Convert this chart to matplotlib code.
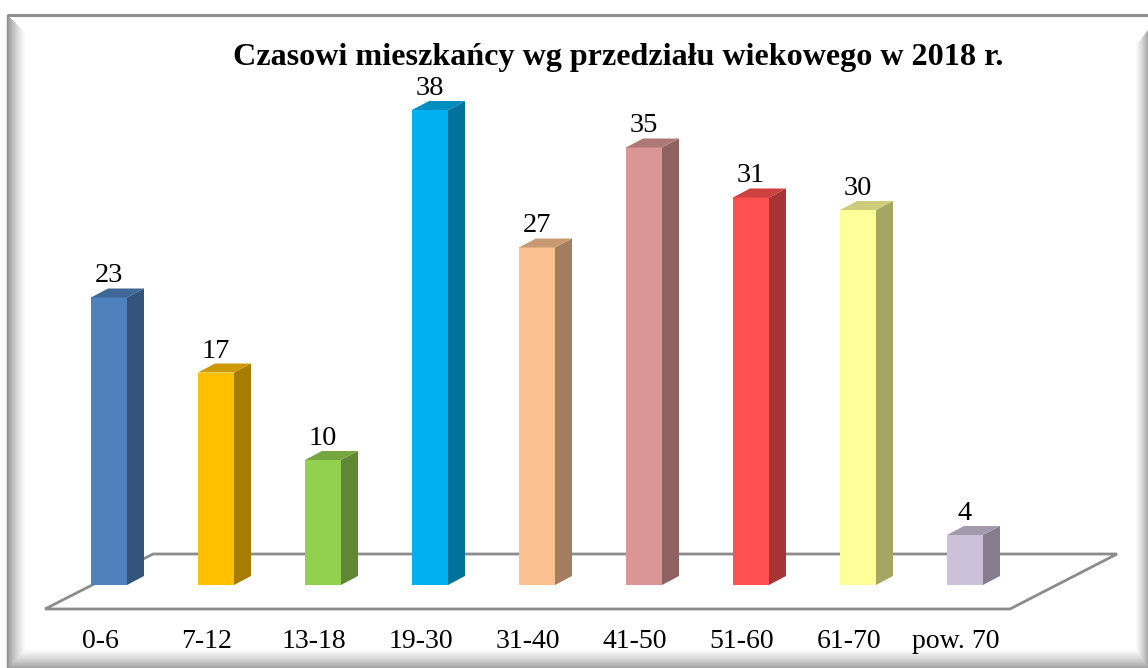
import matplotlib
matplotlib.use('Agg')
import matplotlib.pyplot as plt
from matplotlib.patches import Polygon
import matplotlib.colors as mcolors

# data
categories = ['0-6', '7-12', '13-18', '19-30', '31-40', '41-50', '51-60', '61-70', 'pow. 70']
values = [23, 17, 10, 38, 27, 35, 31, 30, 4]
bar_colors = ['#4F81BD', '#FFC000', '#92D050', '#00B0F0', '#FAC090',
              '#D99694', '#FF5050', '#FFFF99', '#CCC0DA']
title = 'Czasowi mieszkańcy wg przedziału wiekowego w 2018 r.'

W, H = 1148, 668
fig = plt.figure(figsize=(W / 100, H / 100), dpi=100)
fig.patch.set_facecolor('white')
serif = 'Liberation Serif'

# ── decoration layer in pixel coords ──
deco = fig.add_axes([0, 0, 1, 1], zorder=0)
deco.set_xlim(0, W)
deco.set_ylim(H, 0)
deco.axis('off')

L = lambda t: 7 + 18 * t
R = lambda t: 1150 - 14 * t
T = lambda t: 15 + 18 * t
B = lambda t: 670 - 20 * t
N = 30
for i in range(N):
    t0, t1 = i / N, (i + 1) / N
    g = 0.52 + 0.48 * (t0 ** 0.7)
    c = (g, g, g)
    for pts in [
        [(L(t0), T(t0)), (L(t1), T(t1)), (L(t1), B(t1)), (L(t0), B(t0))],
        [(R(t0), T(t0) + 13), (R(t1), T(t1) + 13), (R(t1), B(t1)), (R(t0), B(t0))],
        [(L(t0), B(t0)), (R(t0), B(t0)), (R(t1), B(t1)), (L(t1), B(t1))],
    ]:
        deco.add_patch(Polygon(pts, closed=True, facecolor=c, edgecolor=c, lw=0.3))
deco.plot([7, W], [15, 15], color='#8f8f8f', lw=2.2, solid_capstyle='butt')

# floor
floor = [(45, 609), (1010, 609), (1117, 554), (153, 554)]
deco.add_patch(Polygon(floor, closed=True, facecolor='white',
                       edgecolor='#8c8c8c', lw=2.0, joinstyle='miter'))

# ── data layer ──
px_x, px_y = 107.0, 12.5       # pixels per category / per unit
x0_px, y0_px = 109, 585        # position of first bar centre / baseline
ax = fig.add_axes([0, 0, 1, 1], zorder=1)
ax.patch.set_alpha(0)
ax.set_xlim(-x0_px / px_x, (W - x0_px) / px_x)
ax.set_ylim(-(H - y0_px) / px_y, y0_px / px_y)
ax.axis('off')

w = 36 / px_x
dx, dy = 17 / px_x, 9 / px_y
xs = list(range(len(categories)))

def shade(col, f):
    r, g, b = mcolors.to_rgb(col)
    return (r * f, g * f, b * f)

ax.bar(xs, values, width=w, color=bar_colors, zorder=3, linewidth=0)
for x, v, col in zip(xs, values, bar_colors):
    xl, xr = x - w / 2, x + w / 2
    side = [(xr, 0), (xr + dx, dy), (xr + dx, v + dy), (xr, v)]
    top = [(xl, v), (xl + dx, v + dy), (xr + dx, v + dy), (xr, v)]
    ax.add_patch(Polygon(side, closed=True, facecolor=shade(col, 0.65),
                         edgecolor='none', zorder=3))
    ax.add_patch(Polygon(top, closed=True, facecolor=shade(col, 0.8),
                         edgecolor='none', zorder=3))
    ax.annotate(str(v), (x, v), xytext=(0, 15 * 0.72), textcoords='offset points',
                ha='center', va='baseline', fontsize=20.5, family=serif, zorder=4)

for x, lab in zip(xs, categories):
    ax.text(x - 9 / px_x, (y0_px - 648) / px_y, lab, ha='center', va='baseline',
            fontsize=20, family=serif)

fig.text(618 / W, 1 - 65 / H, title, ha='center', va='baseline',
         fontsize=23.1, fontweight='bold', family=serif)

fig.savefig('out.png', dpi=100, facecolor='white')
